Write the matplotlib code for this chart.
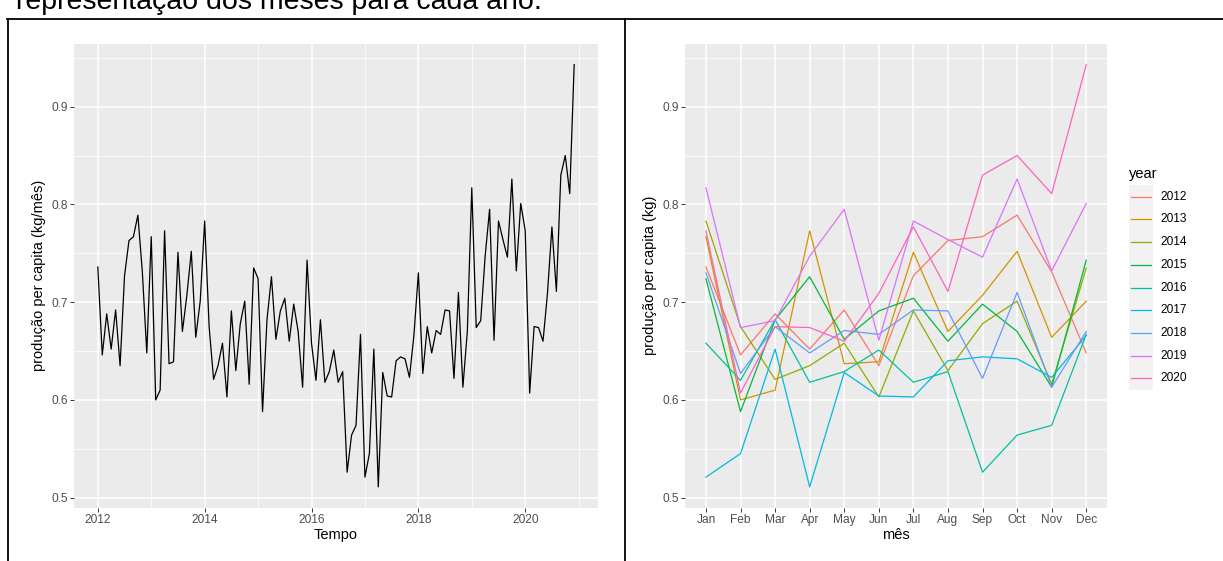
import matplotlib
matplotlib.use("Agg")
import matplotlib.pyplot as plt
from matplotlib.lines import Line2D
import numpy as np

plt.rcParams["font.family"] = "Liberation Sans"

# monthly production per capita (kg), one list per year
months = ["Jan", "Feb", "Mar", "Apr", "May", "Jun",
          "Jul", "Aug", "Sep", "Oct", "Nov", "Dec"]
years = [2012, 2013, 2014, 2015, 2016, 2017, 2018, 2019, 2020]
y2012 = [0.736, 0.646, 0.688, 0.652, 0.692, 0.635, 0.727, 0.763, 0.767, 0.789, 0.731, 0.648]
y2013 = [0.767, 0.600, 0.610, 0.773, 0.637, 0.639, 0.751, 0.670, 0.707, 0.752, 0.664, 0.701]
y2014 = [0.783, 0.675, 0.621, 0.635, 0.658, 0.603, 0.691, 0.630, 0.678, 0.701, 0.616, 0.735]
y2015 = [0.724, 0.588, 0.682, 0.726, 0.662, 0.691, 0.704, 0.660, 0.698, 0.670, 0.613, 0.743]
y2016 = [0.658, 0.620, 0.682, 0.618, 0.629, 0.651, 0.618, 0.629, 0.526, 0.564, 0.574, 0.667]
y2017 = [0.521, 0.545, 0.652, 0.511, 0.628, 0.604, 0.603, 0.640, 0.644, 0.642, 0.623, 0.666]
y2018 = [0.730, 0.627, 0.675, 0.648, 0.671, 0.667, 0.692, 0.691, 0.622, 0.710, 0.613, 0.670]
y2019 = [0.817, 0.674, 0.681, 0.747, 0.795, 0.661, 0.783, 0.764, 0.746, 0.826, 0.732, 0.801]
y2020 = [0.773, 0.607, 0.675, 0.674, 0.660, 0.709, 0.777, 0.711, 0.830, 0.850, 0.811, 0.943]
by_year = [y2012, y2013, y2014, y2015, y2016, y2017, y2018, y2019, y2020]

year_colors = ["#F8766D", "#D39200", "#93AA00", "#00BA38", "#00C19F",
               "#00B9E3", "#619CFF", "#DB72FB", "#FF61C3"]

yticks = [0.5, 0.6, 0.7, 0.8, 0.9]
xticks_left = [2012, 2014, 2016, 2018, 2020]

W, H = 1223, 561
PANEL = "#EBEBEB"
TICKC = "#4D4D4D"


def px_axes(fig, x0, y0, x1, y1):
    # pixel box (top-left origin) -> figure axes
    return fig.add_axes([x0 / W, 1 - y1 / H, (x1 - x0) / W, (y1 - y0) / H])


def gg_style(ax):
    ax.set_facecolor(PANEL)
    for s in ax.spines.values():
        s.set_visible(False)
    ax.grid(which="major", color="white", lw=1.1)
    ax.grid(which="minor", color="white", lw=0.55)
    ax.set_axisbelow(True)
    ax.tick_params(which="major", length=2.6, width=0.7, color="#333333",
                   labelsize=8.6, labelcolor=TICKC, pad=2)
    ax.tick_params(which="minor", length=0)


fig = plt.figure(figsize=(W / 100, H / 100), dpi=100)

# ---- left: full time series
series = np.concatenate(by_year)
t = years[0] + np.arange(len(series)) / 12

ax1 = px_axes(fig, 74, 43.5, 598, 508)
gg_style(ax1)
ax1.plot(t, series, color="black", lw=0.9)
lo, hi = series.min(), series.max()
pad = (hi - lo) * 0.05
ax1.set_ylim(lo - pad, hi + pad)
tpad = (t[-1] - t[0]) * 0.05
ax1.set_xlim(t[0] - tpad, t[-1] + tpad)
ax1.set_xticks(xticks_left)
ax1.set_xticks([2013, 2015, 2017, 2019, 2021], minor=True)
ax1.set_yticks(yticks)
ax1.set_yticks([0.55, 0.65, 0.75, 0.85, 0.95], minor=True)
ax1.set_xlabel("Tempo", fontsize=10.5, labelpad=1)
ax1.set_ylabel("produção per capita (kg/mês)", fontsize=10.5, labelpad=4)

# ---- right: seasonal plot
ax2 = px_axes(fig, 685.2, 43.5, 1107, 508)
gg_style(ax2)
xm = np.arange(len(months))
for yr, vals, c in zip(years, by_year, year_colors):
    ax2.plot(xm, vals, color=c, lw=0.9, label=str(yr))
ax2.set_ylim(lo - pad, hi + pad)
ax2.set_xlim(-0.6, len(months) - 1 + 0.6)
ax2.set_xticks(xm)
ax2.set_xticklabels(months)
ax2.set_yticks(yticks)
ax2.set_yticks([0.55, 0.65, 0.75, 0.85, 0.95], minor=True)
ax2.set_xlabel("mês", fontsize=10.5, labelpad=1)
ax2.set_ylabel("produção per capita (kg)", fontsize=10.5, labelpad=4)

# legend drawn ggplot-like: grey key strip, coloured keys, labels
axl = px_axes(fig, 1129, 185, 1153, 389.5)
axl.set_facecolor("#F2F2F2")
axl.set_xlim(0, 1)
axl.set_ylim(389.5, 185)
axl.set_xticks([])
axl.set_yticks([])
for s in axl.spines.values():
    s.set_visible(False)
for i, (yr, c) in enumerate(zip(years, year_colors)):
    yy = 196.7 + i * 22.7
    axl.plot([0.08, 0.92], [yy, yy], color=c, lw=0.9)
    axl.text(1.3, yy, str(yr), fontsize=8.6, va="center", ha="left",
             clip_on=False)
axl.text(0.0, 173.5, "year", fontsize=10.5, va="center", ha="left",
         clip_on=False)

# document text (cut at the top in the source) and table borders
fig.text(16 / W, 1 - 9 / H, "representação dos meses para cada ano.",
         fontsize=20.5, va="baseline", ha="left")
for xs, ys in [([7, W], [18.5, 18.5]), ([7.5, 7.5], [18.5, H]),
               ([624.5, 624.5], [18.5, H])]:
    fig.add_artist(Line2D([x / W for x in xs], [1 - y / H for y in ys],
                          color="black", lw=1.3))

fig.savefig("out.png", dpi=100)
